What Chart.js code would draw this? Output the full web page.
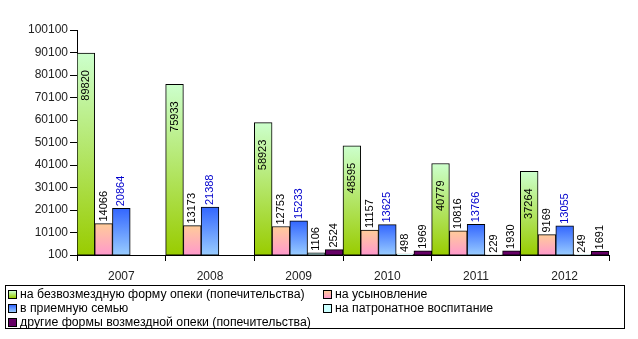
<!DOCTYPE html>
<html>
<head>
<meta charset="utf-8">
<script src="https://cdn.jsdelivr.net/npm/chart.js@4/dist/chart.umd.min.js"></script>
<style>
    body { margin: 0; background: #fff; font-family: 'Liberation Sans', Arial, sans-serif; }
    #wrap { position: relative; width: 638px; height: 339px; }
    #chart { position: absolute; left: 0; top: 0; }
    #legend {
        position: absolute; left: 5px; top: 285px; width: 620px; height: 44px;
        border: 1px solid #000; box-sizing: border-box;
        display: grid; grid-template-columns: 315px 300px; grid-auto-rows: 14px;
        padding: 1px 0 0 2px; font-size: 12.3px; color: #000;
    }
    .item { display: flex; align-items: center; white-space: nowrap; }
    .sw { width: 7px; height: 7px; border: 1px solid #000; margin-right: 3px; }
</style>
</head>
<body>
<div id="wrap">
    <canvas id="chart" width="638" height="339"></canvas>
    <div id="legend"></div>
</div>
<script>
// 数据
const years = ['2007', '2008', '2009', '2010', '2011', '2012'];
const seriesNames = [
    'на безвозмездную форму опеки (попечительства)',
    'на усыновление',
    'в приемную семью',
    'на патронатное воспитание',
    'другие формы возмездной опеки (попечительства)'
];
const freeGuardianship = [89820, 75933, 58923, 48595, 40779, 37264];
const adoption = [14066, 13173, 12753, 11157, 10816, 9169];
const fosterFamily = [20864, 21388, 15233, 13625, 13766, 13055];
const patronage = [null, null, 1106, 498, 229, 249];
const otherPaid = [null, null, 2524, 1969, 1930, 1691];
const yTicks = [100, 10100, 20100, 30100, 40100, 50100, 60100, 70100, 80100, 90100, 100100];

// 颜色 (上 -> 下 渐变)
const fills = [
    ['#ccffcc', '#99cc00'],
    ['#ffcc99', '#ff99cc'],
    ['#3366ff', '#99ccff'],
    ['#ccffff', '#ccffff'],
    ['#660066', '#660066']
];
const labelColors = ['#000', '#000', '#0000cc', '#000', '#000'];

function barGradient(ctx, idx) {
    const chart = ctx.chart;
    const c = fills[idx];
    if (!chart.chartArea || ctx.raw == null) return c[0];
    const y = chart.scales.y;
    const top = y.getPixelForValue(ctx.raw);
    const bottom = chart.chartArea.bottom;
    if (bottom - top < 1) return c[0];
    const g = chart.ctx.createLinearGradient(0, top, 0, bottom);
    g.addColorStop(0, c[0]);
    g.addColorStop(1, c[1]);
    return g;
}

const allData = [freeGuardianship, adoption, fosterFamily, patronage, otherPaid];

// 柱顶数值标签
const valueLabels = {
    id: 'valueLabels',
    afterDatasetsDraw(chart) {
        const ctx = chart.ctx;
        ctx.save();
        ctx.font = '11px "Liberation Sans", Arial, sans-serif';
        ctx.textBaseline = 'middle';
        chart.data.datasets.forEach((ds, i) => {
            const meta = chart.getDatasetMeta(i);
            meta.data.forEach((bar, j) => {
                const v = ds.data[j];
                if (v == null) return;
                ctx.save();
                ctx.translate(bar.x, bar.y);
                ctx.rotate(-Math.PI / 2);
                ctx.fillStyle = labelColors[i];
                if (i === 0) {
                    ctx.textAlign = 'right';
                    ctx.fillText(String(v), -17, 0);
                } else {
                    ctx.textAlign = 'left';
                    ctx.fillText(String(v), 2, 0);
                }
                ctx.restore();
            });
        });
        ctx.restore();
    }
};

new Chart(document.getElementById('chart'), {
    type: 'bar',
    data: {
        labels: years,
        datasets: allData.map((d, i) => ({
            label: seriesNames[i],
            data: d,
            backgroundColor: ctx => barGradient(ctx, i),
            borderColor: '#000',
            borderWidth: 1,
            borderSkipped: false,
            barPercentage: 1,
            categoryPercentage: 1
        }))
    },
    options: {
        responsive: false,
        animation: false,
        layout: { padding: { top: 30, right: 29, left: 0, bottom: 0 } },
        plugins: {
            legend: { display: false },
            tooltip: { enabled: false }
        },
        scales: {
            x: {
                afterFit: s => { s.height = 84; },
                grid: { drawOnChartArea: false, tickLength: 6, color: '#000', offset: true },
                border: { color: '#000' },
                ticks: { color: '#222', padding: 8, font: { size: 12, family: '"Liberation Sans", Arial' } }
            },
            y: {
                min: 100,
                max: 100100,
                afterFit: s => { s.width = 77; },
                afterBuildTicks: s => { s.ticks = yTicks.map(v => ({ value: v })); },
                grid: { drawOnChartArea: false, tickLength: 7, color: '#000' },
                border: { color: '#000' },
                ticks: {
                    color: '#222',
                    padding: 2,
                    font: { size: 12, family: '"Liberation Sans", Arial' },
                    callback: v => String(v)
                }
            }
        }
    },
    plugins: [valueLabels]
});

// 图例 (两列)
const legendDiv = document.getElementById('legend');
seriesNames.forEach((name, i) => {
    const item = document.createElement('div');
    item.className = 'item';
    const sw = document.createElement('span');
    sw.className = 'sw';
    sw.style.background = `linear-gradient(${fills[i][0]}, ${fills[i][1]})`;
    const txt = document.createElement('span');
    txt.textContent = name;
    item.appendChild(sw);
    item.appendChild(txt);
    legendDiv.appendChild(item);
});
</script>
</body>
</html>
